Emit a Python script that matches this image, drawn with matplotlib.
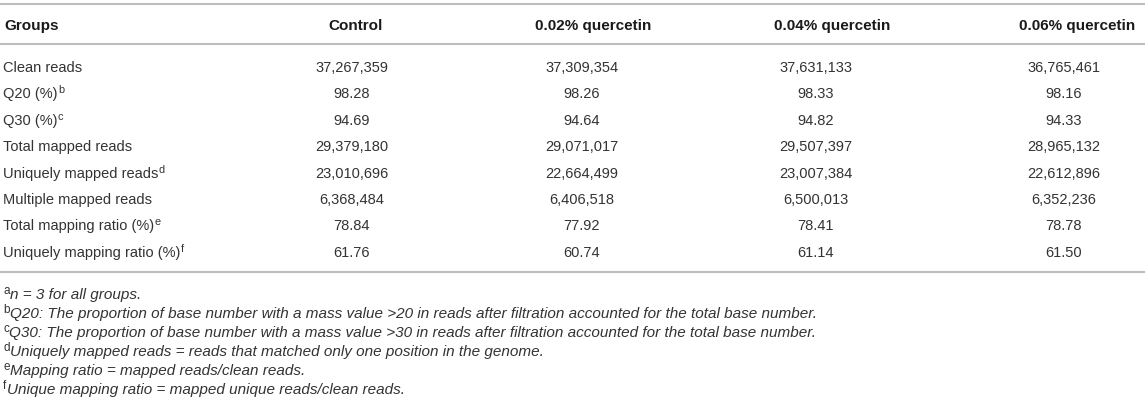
import matplotlib
matplotlib.use("Agg")
import matplotlib.pyplot as plt

plt.rcParams['font.family'] = ['Liberation Sans', 'DejaVu Sans']

# Table content
groups = ["Control", "0.02% quercetin", "0.04% quercetin", "0.06% quercetin"]
row_labels = [
    "Clean reads",
    "Q20 (%)",
    "Q30 (%)",
    "Total mapped reads",
    "Uniquely mapped reads",
    "Multiple mapped reads",
    "Total mapping ratio (%)",
    "Uniquely mapping ratio (%)",
]
row_marks = ["", "b", "c", "", "d", "", "e", "f"]
control = ["37,267,359", "98.28", "94.69", "29,379,180", "23,010,696", "6,368,484", "78.84", "61.76"]
q002 = ["37,309,354", "98.26", "94.64", "29,071,017", "22,664,499", "6,406,518", "77.92", "60.74"]
q004 = ["37,631,133", "98.33", "94.82", "29,507,397", "23,007,384", "6,500,013", "78.41", "61.14"]
q006 = ["36,765,461", "98.16", "94.33", "28,965,132", "22,612,896", "6,352,236", "78.78", "61.50"]
foot_marks = ["a", "b", "c", "d", "e", "f"]
footnotes = [
    "n = 3 for all groups.",
    "Q20: The proportion of base number with a mass value >20 in reads after filtration accounted for the total base number.",
    "Q30: The proportion of base number with a mass value >30 in reads after filtration accounted for the total base number.",
    "Uniquely mapped reads = reads that matched only one position in the genome.",
    "Mapping ratio = mapped reads/clean reads.",
    "Unique mapping ratio = mapped unique reads/clean reads.",
]

W, H = 1145, 404
fig = plt.figure(figsize=(W / 100, H / 100), dpi=100)
ax = fig.add_axes([0, 0, 1, 1])
ax.set_xlim(0, W)
ax.set_ylim(H, 0)
ax.axis("off")
renderer = fig.canvas.get_renderer()

rule_color = "#bdbdbd"
text_color = "#333333"
head_x = [356, 593, 832, 1077]
val_x = [352, 582, 816, 1064]
header_y = 25
row_y0, row_step = 67, 26.4
foot_y0, foot_step = 294, 19


def text_width(t):
    bb = t.get_window_extent(renderer)
    return bb.x1 - bb.x0


# horizontal rules
for y in [4, 44, 272]:
    ax.axhline(y, color=rule_color, lw=1.5)

# header
ax.text(4, round(header_y + 5.5), "Groups", fontsize=11, fontweight="bold",
        color="#1a1a1a", ha="left", va="baseline")
for x, g in zip(head_x, groups):
    ax.text(x, round(header_y + 5.5), g, fontsize=11, fontweight="bold",
            color="#1a1a1a", ha="center", va="baseline")

# body
columns = [control, q002, q004, q006]
for i, lab in enumerate(row_labels):
    y = round(row_y0 + i * row_step + 5)
    t = ax.text(3, y, lab, fontsize=10.5, color=text_color, ha="left", va="baseline")
    if row_marks[i]:
        ax.text(3 + text_width(t) + 0.5, y - 5, row_marks[i], fontsize=7.8,
                color=text_color, ha="left", va="baseline")
    for x, col in zip(val_x, columns):
        ax.text(x, y, col[i], fontsize=10.5, color=text_color, ha="center", va="baseline")

# footnotes
for i, note in enumerate(footnotes):
    y = round(foot_y0 + i * foot_step + 5)
    s = ax.text(3, y - 5, foot_marks[i], fontsize=8.5, color=text_color,
                ha="left", va="baseline")
    ax.text(3 + text_width(s) + 0.5, y, note, fontsize=11, color=text_color,
            style="italic", ha="left", va="baseline")

fig.savefig("out.png", dpi=100)
